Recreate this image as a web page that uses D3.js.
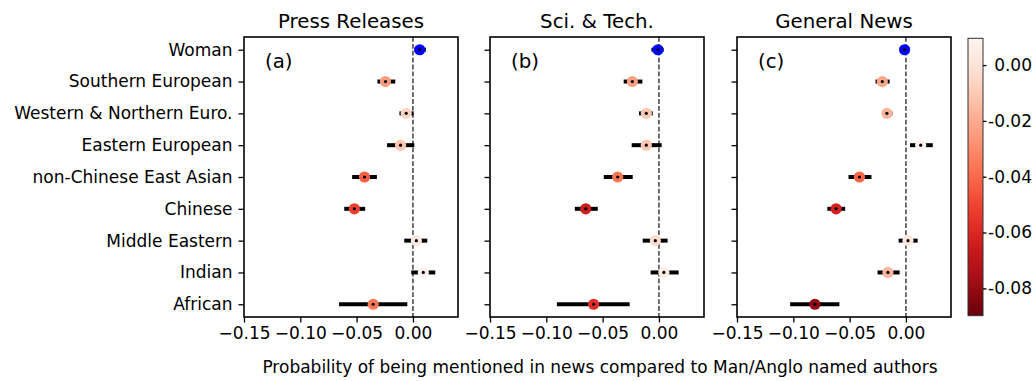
<!DOCTYPE html>
<html>

<head>
  <meta charset="utf-8">
  <title></title>
  <script src="https://cdn.jsdelivr.net/npm/d3@7"></script>
</head>
<style>
  body { margin: 0; background: #fff; }
  svg text { font-family: "DejaVu Sans", sans-serif; fill: #000; }
</style>

<body>
  <div id="chart"></div>
  <script>
    // categories, top to bottom
    var categories = ['Woman', 'Southern European', 'Western & Northern Euro.', 'Eastern European',
      'non-Chinese East Asian', 'Chinese', 'Middle Eastern', 'Indian', 'African'];
    var panelTitles = ['Press Releases', 'Sci. & Tech.', 'General News'];
    var panelTags = ['(a)', '(b)', '(c)'];
    var xTicks = [-0.15, -0.10, -0.05, 0.00];
    var colorTicks = [0.00, -0.02, -0.04, -0.06, -0.08];

    // estimates and confidence intervals per panel
    var pressMean = [0.006, -0.0244, -0.006, -0.011, -0.043, -0.052, 0.003, 0.0092, -0.0353];
    var pressLow = [0.0015, -0.0315, -0.012, -0.023, -0.054, -0.061, -0.0077, -0.0015, -0.0656];
    var pressHigh = [0.0115, -0.0157, 0.0006, 0.0012, -0.032, -0.0424, 0.0127, 0.0198, -0.005];

    var sciMean = [-0.0009, -0.0236, -0.0112, -0.0112, -0.0366, -0.065, -0.0032, 0.0044, -0.058];
    var sciLow = [-0.0067, -0.0313, -0.0177, -0.0242, -0.049, -0.0747, -0.0144, -0.0074, -0.0906];
    var sciHigh = [0.0042, -0.0147, -0.0055, 0.0024, -0.0233, -0.0543, 0.0077, 0.0175, -0.026];

    var genMean = [-0.0012, -0.021, -0.0169, 0.0131, -0.0413, -0.062, 0.0018, -0.016, -0.0808];
    var genLow = [-0.0035, -0.027, -0.021, 0.0036, -0.051, -0.0698, -0.0065, -0.0252, -0.1028];
    var genHigh = [0.001, -0.0145, -0.012, 0.0238, -0.0306, -0.054, 0.0104, -0.0056, -0.0591];

    var colorMin = -0.0898, colorMax = 0.0096;

    var panels = [
      { mean: pressMean, low: pressLow, high: pressHigh },
      { mean: sciMean, low: sciLow, high: sciHigh },
      { mean: genMean, low: genLow, high: genHigh }
    ];

    var width = 1034, height = 381;
    var panelLeft = [244, 490, 737], panelW = 214;
    var plotTop = 37, plotBottom = 317;
    var fs = 17;

    var svg = d3.select('#chart').append('svg')
      .attr('width', width).attr('height', height);
    svg.append('rect').attr('width', width).attr('height', height).attr('fill', '#fff');

    var y = d3.scaleLinear().domain([-0.4, categories.length - 1 + 0.4]).range([plotTop, plotBottom]);
    var color = function (v) {
      var t = (colorMax - v) / (colorMax - colorMin);
      return d3.interpolateReds(Math.max(0, Math.min(1, t)));
    };

    panels.forEach(function (p, pi) {
      var x0 = panelLeft[pi];
      var x = d3.scaleLinear().domain([-0.15, 0.04]).range([x0, x0 + panelW]);
      var g = svg.append('g');

      // zero line
      g.append('line')
        .attr('x1', x(0)).attr('x2', x(0)).attr('y1', plotTop).attr('y2', plotBottom)
        .attr('stroke', '#222').attr('stroke-width', 1.3)
        .attr('stroke-dasharray', '4.8,2.1');

      var idx = d3.range(categories.length);
      // error bars
      g.selectAll('.err').data(idx).enter().append('line')
        .attr('x1', function (i) { return x(p.low[i]); })
        .attr('x2', function (i) { return x(p.high[i]); })
        .attr('y1', function (i) { return y(i); })
        .attr('y2', function (i) { return y(i); })
        .attr('stroke', '#000').attr('stroke-width', 4);
      // coloured markers
      g.selectAll('.pt').data(idx).enter().append('circle')
        .attr('cx', function (i) { return x(p.mean[i]); })
        .attr('cy', function (i) { return y(i); })
        .attr('r', 5.6)
        .attr('fill', function (i) { return i === 0 ? '#0000ff' : color(p.mean[i]); });
      g.selectAll('.dot').data(idx).enter().append('circle')
        .attr('cx', function (i) { return x(p.mean[i]); })
        .attr('cy', function (i) { return y(i); })
        .attr('r', 1.6).attr('fill', '#000');

      // axes
      var xAxis = d3.axisBottom(x).tickValues(xTicks).tickSize(5.5).tickPadding(4)
        .tickFormat(function (d) { return d3.format('.2f')(d).replace('-', '\u2212'); });
      var gx = g.append('g').attr('transform', 'translate(0,' + plotBottom + ')').call(xAxis);
      gx.select('.domain').remove();
      gx.selectAll('line').attr('stroke-width', 1.3);
      gx.selectAll('text').attr('font-size', fs).attr('font-family', '"DejaVu Sans", sans-serif').attr('dy', '0.74em');

      var yAxis = d3.axisLeft(y).tickValues(d3.range(categories.length)).tickSize(5.5).tickPadding(6)
        .tickFormat(function (i) { return pi === 0 ? categories[i] : ''; });
      var gy = g.append('g').attr('transform', 'translate(' + x0 + ',0)').call(yAxis);
      gy.select('.domain').remove();
      gy.selectAll('line').attr('stroke-width', 1.3);
      gy.selectAll('text').attr('font-size', fs).attr('font-family', '"DejaVu Sans", sans-serif');

      g.append('rect')
        .attr('x', x0).attr('y', plotTop).attr('width', panelW).attr('height', plotBottom - plotTop)
        .attr('fill', 'none').attr('stroke', '#000').attr('stroke-width', 1.6);

      g.append('text')
        .attr('x', x0 + panelW / 2).attr('y', 28)
        .attr('text-anchor', 'middle').attr('font-size', 19.8)
        .text(panelTitles[pi]);
      g.append('text')
        .attr('x', x0 + 21).attr('y', 68)
        .attr('font-size', 19.8)
        .text(panelTags[pi]);
    });

    svg.append('text')
      .attr('x', 600).attr('y', 373)
      .attr('text-anchor', 'middle').attr('font-size', fs)
      .text('Probability of being mentioned in news compared to Man/Anglo named authors');

    // colour bar
    var cbX = 968, cbW = 15, cbTop = 38.3, cbBottom = 315.7;
    var cy = d3.scaleLinear().domain([colorMax, colorMin]).range([cbTop, cbBottom]);
    var defs = svg.append('defs');
    var grad = defs.append('linearGradient').attr('id', 'cbgrad')
      .attr('x1', 0).attr('x2', 0).attr('y1', 0).attr('y2', 1);
    d3.range(0, 1.0001, 0.05).forEach(function (t) {
      grad.append('stop').attr('offset', t).attr('stop-color', d3.interpolateReds(t));
    });
    svg.append('rect')
      .attr('x', cbX).attr('y', cbTop).attr('width', cbW).attr('height', cbBottom - cbTop)
      .attr('fill', 'url(#cbgrad)').attr('stroke', '#333').attr('stroke-width', 1);
    var cAxis = d3.axisRight(cy).tickValues(colorTicks).tickSize(3.5).tickPadding(3)
      .tickFormat(function (d) { return d3.format('.2f')(d).replace('\u2212', '-'); });
    var gc = svg.append('g').attr('transform', 'translate(' + (cbX + cbW) + ',0)').call(cAxis);
    gc.select('.domain').remove();
    gc.selectAll('line').attr('stroke-width', 1.3);
    gc.selectAll('text').attr('font-size', fs).attr('font-family', '"DejaVu Sans", sans-serif')
      .attr('text-anchor', 'end').attr('x', 1032 - cbX - cbW);
  </script>
</body>

</html>
